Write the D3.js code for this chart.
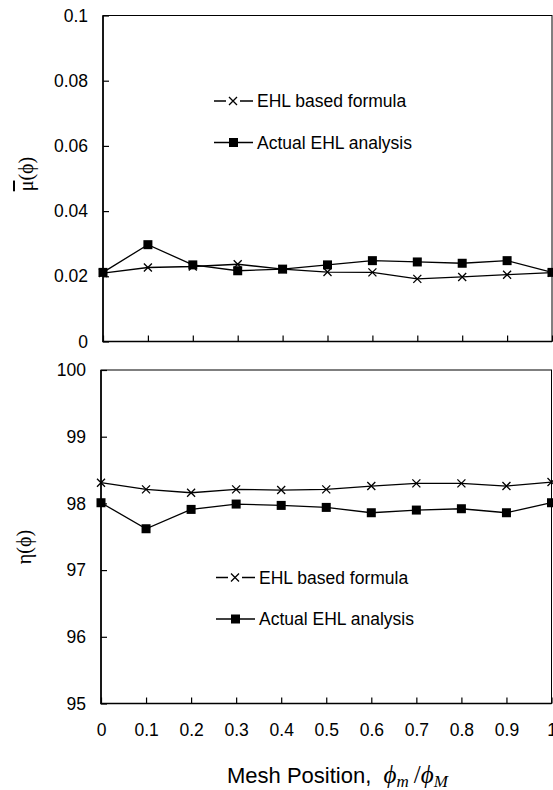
<!DOCTYPE html>
<html>
<head>
<meta charset="utf-8">
<script src="https://cdn.jsdelivr.net/npm/d3@7"></script>
<style>
  body { margin: 0; background: #fff; }
  text { font-family: "Liberation Sans", Arial, sans-serif; fill: #000; }
</style>
</head>
<body>
<div id="chart"></div>
<script>
// mesh positions and tick labels
var positions = [0, 0.1, 0.2, 0.3, 0.4, 0.5, 0.6, 0.7, 0.8, 0.9, 1]
var xLabels = ["0", "0.1", "0.2", "0.3", "0.4", "0.5", "0.6", "0.7", "0.8", "0.9", "1"]

// friction coefficient (top panel)
var muFormula = [0.0210, 0.0227, 0.0230, 0.0237, 0.0222, 0.0213, 0.0212, 0.0192, 0.0198, 0.0205, 0.0211]
var muActual  = [0.0212, 0.0297, 0.0235, 0.0217, 0.0222, 0.0235, 0.0248, 0.0244, 0.0240, 0.0248, 0.0212]
var muTicks = [0, 0.02, 0.04, 0.06, 0.08, 0.1]
var muLabels = ["0", "0.02", "0.04", "0.06", "0.08", "0.1"]

// efficiency (bottom panel)
var etaFormula = [98.31, 98.21, 98.16, 98.21, 98.20, 98.21, 98.26, 98.30, 98.30, 98.26, 98.32]
var etaActual  = [98.01, 97.62, 97.91, 97.99, 97.97, 97.94, 97.86, 97.90, 97.92, 97.86, 98.01]
var etaTicks = [95, 96, 97, 98, 99, 100]

var seriesNames = ["EHL based formula", "Actual EHL analysis"]

var width = 553
var height = 790
var serif = "Liberation Serif, Times New Roman, serif"

var svg = d3.select("#chart")
  .append("svg")
    .attr("width", width)
    .attr("height", height)

function draw_panel(opt){
  var x = d3.scaleLinear().domain([0, 1]).range([opt.left, opt.right])
  var y = d3.scaleLinear().domain(opt.domain).range([opt.bottom, opt.top])

  var g = svg.append("g")

  // frame
  g.append("rect")
    .attr("x", opt.left)
    .attr("y", opt.top)
    .attr("width", opt.right - opt.left)
    .attr("height", opt.bottom - opt.top)
    .style("fill", "none")
    .style("stroke", "#000")
    .style("stroke-width", 1)

  // thicker left and bottom axis lines
  g.append("path")
    .attr("d", "M" + opt.left + "," + opt.top + "V" + opt.bottom + "H" + opt.right)
    .style("fill", "none")
    .style("stroke", "#000")
    .style("stroke-width", 1.6)

  var yAxis = g.append("g")
    .attr("transform", "translate(" + opt.left + ",0)")
    .call(d3.axisLeft(y).tickValues(opt.ticks).tickFormat((d, i) => opt.tickLabels[i])
      .tickSize(-6).tickPadding(15))
  yAxis.select(".domain").remove()
  yAxis.selectAll("line").style("stroke-width", 1.2)
  yAxis.selectAll("text").style("font-size", "17.5px").style("font-family", "Liberation Sans, Arial, sans-serif")

  var xAxis = g.append("g")
    .attr("transform", "translate(0," + opt.bottom + ")")
    .call(d3.axisBottom(x).tickValues(positions).tickFormat((d, i) => xLabels[i])
      .tickSize(-6).tickPadding(20))
  xAxis.select(".domain").remove()
  xAxis.selectAll("line").style("stroke-width", 1.2)
  xAxis.selectAll("text").style("font-size", "17.5px").style("font-family", "Liberation Sans, Arial, sans-serif")
  if (!opt.showX) xAxis.selectAll("text").remove()

  var line = d3.line().x((d, i) => x(positions[i])).y(d => y(d))

  g.append("path")
    .datum(opt.formula)
    .attr("d", line)
    .style("fill", "none").style("stroke", "#000").style("stroke-width", 1.3)

  g.append("path")
    .datum(opt.actual)
    .attr("d", line)
    .style("fill", "none").style("stroke", "#000").style("stroke-width", 1.3)

  // cross markers
  g.append("g")
    .selectAll("path")
    .data(opt.formula)
    .enter().append("path")
    .attr("transform", (d, i) => "translate(" + x(positions[i]) + "," + y(d) + ")")
    .attr("d", "M-4,-4L4,4M-4,4L4,-4")
    .style("stroke", "#000").style("stroke-width", 1.3)

  // square markers
  g.append("g")
    .selectAll("rect")
    .data(opt.actual)
    .enter().append("rect")
    .attr("x", (d, i) => x(positions[i]) - 4.5)
    .attr("y", d => y(d) - 4.5)
    .attr("width", 9)
    .attr("height", 9)
    .style("fill", "#000")

  // legend
  var leg = g.append("g").attr("transform", "translate(" + opt.legX + "," + opt.legY + ")")
  leg.append("path").attr("d", "M0,0H12M26,0H39").style("stroke", "#000").style("stroke-width", 1.3)
  leg.append("path").attr("d", "M15,-4L23,4M15,4L23,-4").style("stroke", "#000").style("stroke-width", 1.3)
  leg.append("text").attr("x", 43).attr("y", 6).style("font-size", "17.5px").text(seriesNames[0])

  leg.append("path").attr("d", "M0,41.5H39").style("stroke", "#000").style("stroke-width", 1.3)
  leg.append("rect").attr("x", 15).attr("y", 37).attr("width", 9).attr("height", 9).style("fill", "#000")
  leg.append("text").attr("x", 43).attr("y", 47.5).style("font-size", "17.5px").text(seriesNames[1])

  // y title
  var t = svg.append("text")
    .attr("transform", "translate(" + opt.titleX + "," + opt.titleY + ") rotate(-90)")
    .attr("text-anchor", "middle")
    .style("font-family", serif)
    .style("font-size", "20px")
  t.append("tspan").text(opt.symbol === "mu" ? "\u03bc" : "\u03b7")
    .style("text-decoration", opt.symbol === "mu" ? "overline" : "none")
  t.append("tspan").text("(\u03d5)")
}

draw_panel({
  left: 103, right: 552, top: 15.5, bottom: 341.5,
  domain: [0, 0.1], ticks: muTicks, tickLabels: muLabels,
  formula: muFormula, actual: muActual, showX: false,
  legX: 214, legY: 101, titleX: 33, titleY: 174, symbol: "mu"
})

draw_panel({
  left: 101, right: 551.5, top: 370, bottom: 703.5,
  domain: [95, 100], ticks: etaTicks, tickLabels: etaTicks.map(String),
  formula: etaFormula, actual: etaActual, showX: true,
  legX: 216, legY: 577.5, titleX: 31, titleY: 547, symbol: "eta"
})

// x axis title
var xt = svg.append("text")
  .attr("x", 227)
  .attr("y", 783)
  .style("font-size", "22px")
xt.append("tspan").text("Mesh Position,\u00a0\u00a0")
xt.append("tspan").style("font-family", serif).style("font-style", "italic").style("font-size", "25px").text("\u03d5")
xt.append("tspan").style("font-family", serif).style("font-style", "italic").style("font-size", "17px").attr("dy", 4).text("m")
xt.append("tspan").style("font-family", serif).style("font-size", "25px").attr("dy", -4).text("\u2009/")
xt.append("tspan").style("font-family", serif).style("font-style", "italic").style("font-size", "25px").text("\u03d5")
xt.append("tspan").style("font-family", serif).style("font-style", "italic").style("font-size", "17px").attr("dy", 4).text("M")
</script>
</body>
</html>
